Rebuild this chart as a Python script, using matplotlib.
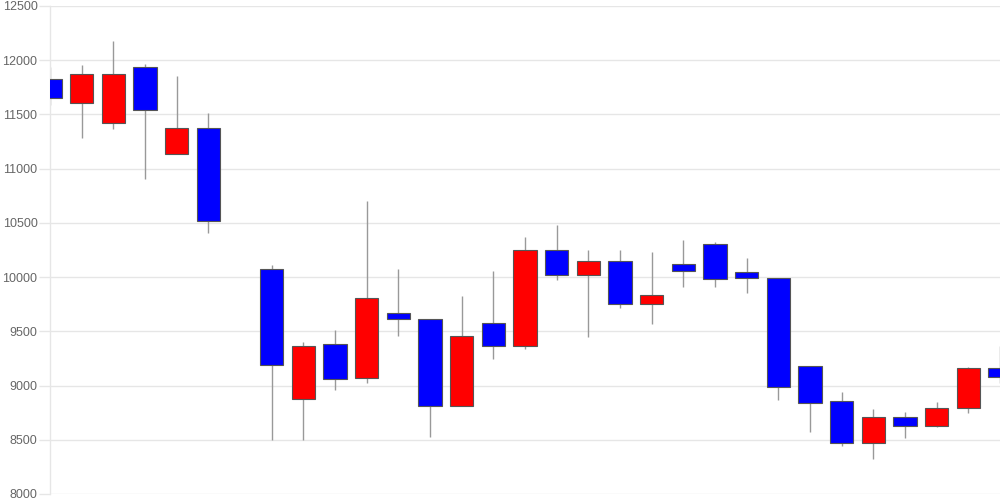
import matplotlib
matplotlib.use("Agg")
import matplotlib.pyplot as plt
import numpy as np

# Daily candles (index 6 is an empty slot: no trading that day)
opens  = [11826, 11610, 11420, 11933, 11134, 11373, None, 10073, 8873, 9381,
          9073, 9673, 9611, 8812, 9580, 9365, 10251, 10023, 10152, 9750,
          10122, 10303, 10051, 9990, 9181, 8861, 8470, 8713, 8630, 8790, 9159]
highs  = [11933, 11955, 12173, 11964, 11853, 11512, None, 10110, 9399, 9510,
          10703, 10073, 9611, 9824, 10054, 10371, 10482, 10248, 10248, 10230,
          10340, 10322, 10180, 9990, 9181, 8941, 8781, 8753, 8852, 9169, 9362]
lows   = [11589, 11281, 11370, 10903, 11134, 10405, None, 8498, 8498, 8962,
          9021, 9461, 8523, 8812, 9248, 9335, 9974, 9451, 9719, 9571,
          9913, 9913, 9851, 8870, 8569, 8440, 8320, 8520, 8620, 8750, 9021]
closes = [11650, 11872, 11872, 11542, 11373, 10515, None, 9193, 9362, 9061,
          9811, 9611, 8812, 9455, 9362, 10251, 10023, 10152, 9750, 9833,
          10054, 9980, 9990, 8990, 8842, 8470, 8713, 8630, 8790, 9159, 9082]

y_ticks = [8000, 8500, 9000, 9500, 10000, 10500, 11000, 11500, 12000, 12500]

UP = "#ff0000"
DOWN = "#0000ff"

fig = plt.figure(figsize=(10, 5), dpi=100)
ax = fig.add_axes([0.05, 0.012, 0.95, 0.976])

width = 0.73
for i, (o, h, l, c) in enumerate(zip(opens, highs, lows, closes)):
    if o is None:
        continue
    color = UP if c >= o else DOWN
    ax.vlines(i, l, h, color="#999999", linewidth=1.0, zorder=2)
    bottom = min(o, c)
    ax.bar(i, abs(c - o), width=width, bottom=bottom, color=color,
           edgecolor="#555555", linewidth=0.8, zorder=3)

ax.set_xlim(0, len(opens) - 1)
ax.set_ylim(8000, 12500)
ax.set_yticks(y_ticks)
ax.set_yticklabels([str(t) for t in y_ticks])
ax.set_xticks([])

ax.grid(axis="y", color="#e6e6e6", linewidth=1.0, zorder=0)
ax.set_axisbelow(True)
for s in ["top", "right", "bottom"]:
    ax.spines[s].set_visible(False)
ax.spines["left"].set_color("#e6e6e6")
ax.spines["left"].set_linewidth(1.0)
ax.tick_params(axis="y", length=8, color="#e6e6e6", width=1.0,
               labelcolor="#666666", labelsize=9, pad=1)
for lab in ax.get_yticklabels():
    lab.set_family("Liberation Sans")

fig.savefig("out.png", dpi=100)
